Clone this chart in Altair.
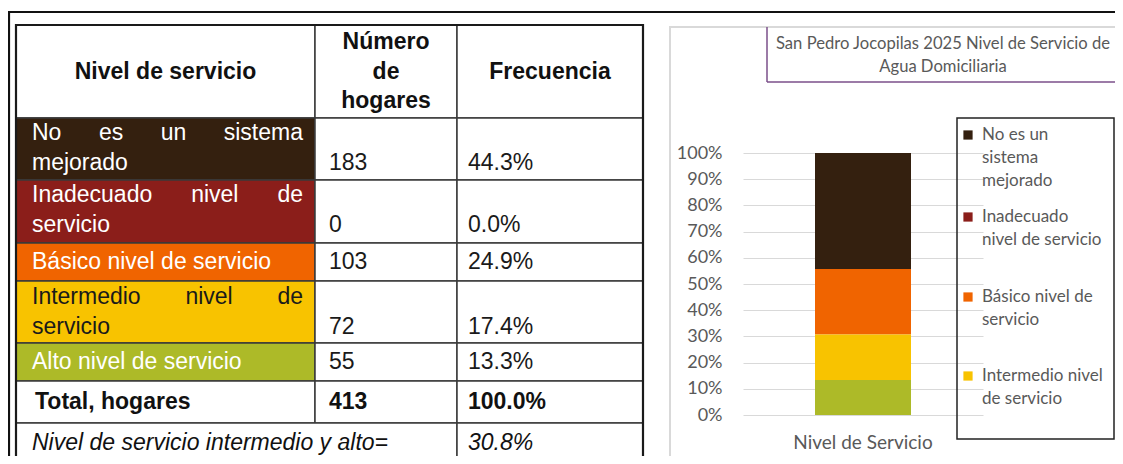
import altair as alt
import pandas as pd

# ----------------------------- datos -----------------------------
categorias = ["No es un sistema mejorado", "Inadecuado nivel de servicio",
              "Básico nivel de servicio", "Intermedio nivel de servicio",
              "Alto nivel de servicio"]
hogares = [183, 0, 103, 72, 55]
frecuencias = ["44.3%", "0.0%", "24.9%", "17.4%", "13.3%"]
colores = ["#34200F", "#8B1E1A", "#F06400", "#F8C300", "#ADBA28"]
color_texto_celda = ["#FFFFFF", "#FFFFFF", "#FFFFFF", "#1A1A1A", "#FFFFFF"]
orden_apilado = [4, 3, 2, 1, 0]
lineas_celda = [
    [["No", "es", "un", "sistema"], ["mejorado"]],
    [["Inadecuado", "nivel", "de"], ["servicio"]],
    [["Básico nivel de servicio"]],
    [["Intermedio", "nivel", "de"], ["servicio"]],
    [["Alto nivel de servicio"]],
]
encabezado_1 = "Nivel de servicio"
encabezado_2 = ["Número", "de", "hogares"]
encabezado_3 = "Frecuencia"
total_etiqueta = "Total, hogares"
total_hogares = "413"
total_frecuencia = "100.0%"
resumen_etiqueta = "Nivel de servicio intermedio y alto="
resumen_valor = "30.8%"
serie = "Nivel de Servicio"
titulo_lineas = ["San Pedro Jocopilas 2025 Nivel de Servicio de", "Agua Domiciliaria"]
ticks_y = [0.0, 0.1, 0.2, 0.3, 0.4, 0.5, 0.6, 0.7, 0.8, 0.9, 1.0]
leyenda_lineas = [["No es un", "sistema", "mejorado"],
                  ["Inadecuado", "nivel de servicio"],
                  ["Básico nivel de", "servicio"],
                  ["Intermedio nivel", "de servicio"]]

# ----------------------------- layout -----------------------------
W, H = 1107, 448
OFF = 8


def p(v):
    return v - OFF


COLS = [16, 315, 457, 643]
ROWS = [25, 118, 180, 243, 281, 343, 381, 423, 463]
LINE_Y = [163, 225, 262, 327, 362]
TOTAL_Y, RESUMEN_Y = 402, 443
LH = 30
FS = 23
X_TXT0, X_TXT1 = 32, 303
X_VAL, X_FREQ = 329, 468
TFONT = "Liberation Sans"
CFONT = "Lato"
GRAY = "#595959"

ARIAL = {" ": 278, "a": 556, "á": 556, "b": 556, "c": 500, "d": 556, "e": 556,
         "f": 278, "g": 556, "h": 556, "i": 222, "j": 222, "k": 500, "l": 222,
         "m": 833, "n": 556, "o": 556, "p": 556, "q": 556, "r": 333, "s": 500,
         "t": 278, "u": 556, "v": 500, "w": 722, "x": 500, "y": 500, "z": 500,
         "A": 667, "B": 667, "I": 278, "N": 722}


def text_w(s, size):
    return sum(ARIAL.get(c, 556) for c in s) * size / 1000.0


def justify(words, x0, x1, size):
    if len(words) == 1:
        return [(words[0], x0)]
    widths = [text_w(w, size) for w in words]
    gap = (x1 - x0 - sum(widths)) / (len(words) - 1)
    out, x = [], x0
    for w, wd in zip(words, widths):
        out.append((w, x))
        x += wd + gap
    return out


# ---- table cells ----
cells = []
for c in range(3):
    cells.append(dict(x=COLS[c], x2=COLS[c + 1], y=ROWS[0], y2=ROWS[1], fill="#FFFFFF"))
for k in range(5):
    for c in range(3):
        cells.append(dict(x=COLS[c], x2=COLS[c + 1], y=ROWS[k + 1], y2=ROWS[k + 2],
                          fill=colores[k] if c == 0 else "#FFFFFF"))
for c in range(3):
    cells.append(dict(x=COLS[c], x2=COLS[c + 1], y=ROWS[6], y2=ROWS[7], fill="#FFFFFF"))
cells.append(dict(x=COLS[0], x2=COLS[2], y=ROWS[7], y2=ROWS[8], fill="#FFFFFF"))
cells.append(dict(x=COLS[2], x2=COLS[3], y=ROWS[7], y2=ROWS[8], fill="#FFFFFF"))
cells_df = pd.DataFrame(cells)
for col in ["x", "x2", "y", "y2"]:
    cells_df[col] = cells_df[col].map(p)

# ---- table text ----
normal = []
for i, lines in enumerate(lineas_celda):
    n = len(lines)
    for j, words in enumerate(lines):
        y = LINE_Y[i] - (n - 1 - j) * LH
        placed = justify(words, X_TXT0, X_TXT1, FS) if j < n - 1 else [(" ".join(words), X_TXT0)]
        for w, x in placed:
            normal.append(dict(x=p(x), y=p(y), t=w, c=color_texto_celda[i]))
    normal.append(dict(x=p(X_VAL), y=p(LINE_Y[i]), t=str(hogares[i]), c="#1A1A1A"))
    normal.append(dict(x=p(X_FREQ), y=p(LINE_Y[i]), t=frecuencias[i], c="#1A1A1A"))
normal_df = pd.DataFrame(normal)

head = [dict(x=p((COLS[0] + COLS[1]) / 2), y=p(72), t=encabezado_1),
        dict(x=p((COLS[2] + COLS[3]) / 2), y=p(72), t=encabezado_3)]
for j, t in enumerate(encabezado_2):
    head.append(dict(x=p((COLS[1] + COLS[2]) / 2), y=p(42 + 29.5 * j), t=t))
head_df = pd.DataFrame(head)

bold_df = pd.DataFrame([dict(x=p(35), y=p(TOTAL_Y), t=total_etiqueta),
                        dict(x=p(X_VAL), y=p(TOTAL_Y), t=total_hogares),
                        dict(x=p(X_FREQ), y=p(TOTAL_Y), t=total_frecuencia)])
ital_df = pd.DataFrame([dict(x=p(X_TXT0), y=p(RESUMEN_Y), t=resumen_etiqueta),
                        dict(x=p(X_FREQ), y=p(RESUMEN_Y), t=resumen_valor)])

# ---- helpers ----
def XP(f="x"):
    return alt.X(f"{f}:Q", scale=None, axis=None)


def YP(f="y"):
    return alt.Y(f"{f}:Q", scale=None, axis=None)


def rules(df, color, width):
    return alt.Chart(df).mark_rule(color=color, strokeWidth=width).encode(
        x=XP(), x2="x2:Q", y=YP(), y2="y2:Q")


def boxes(df, color, width):
    return alt.Chart(df).mark_rect(fill="transparent", stroke=color, strokeWidth=width).encode(
        x=XP(), x2="x2:Q", y=YP(), y2="y2:Q")


def seg(x, x2, y, y2):
    return dict(x=p(x), x2=p(x2), y=p(y), y2=p(y2))


frame = rules(pd.DataFrame([seg(8, 1130, 12, 12), seg(9, 9, 12, 470)]), "#111111", 2.2)

cell_layer = alt.Chart(cells_df).mark_rect(stroke="#3A3A3A", strokeWidth=1.5).encode(
    x=XP(), x2="x2:Q", y=YP(), y2="y2:Q", fill=alt.Fill("fill:N", scale=None))
table_border = boxes(pd.DataFrame([seg(COLS[0], COLS[3], ROWS[0], ROWS[-1])]), "#1A1A1A", 2.2)

txt_normal = alt.Chart(normal_df).mark_text(align="left", baseline="middle", font=TFONT,
                                            fontSize=FS).encode(
    x=XP(), y=YP(), text="t:N", fill=alt.Fill("c:N", scale=None))
txt_head = alt.Chart(head_df).mark_text(align="center", baseline="middle", font=TFONT,
                                        fontSize=FS, fontWeight="bold", color="#111111").encode(
    x=XP(), y=YP(), text="t:N")
txt_bold = alt.Chart(bold_df).mark_text(align="left", baseline="middle", font=TFONT,
                                        fontSize=FS, fontWeight="bold", color="#111111").encode(
    x=XP(), y=YP(), text="t:N")
txt_ital = alt.Chart(ital_df).mark_text(align="left", baseline="middle", font=TFONT,
                                        fontSize=FS, fontStyle="italic", color="#111111").encode(
    x=XP(), y=YP(), text="t:N")

# ---- chart panel ----
panel = boxes(pd.DataFrame([seg(670, 1140, 27, 462)]), "#D9D9D9", 2)
title_box = rules(pd.DataFrame([seg(767, 767, 27, 82), seg(767, 1140, 82, 82)]), "#7B4F8A", 1.5)
title_txt = alt.Chart(pd.DataFrame([dict(x=p(943), y=p(44 + 22.5 * j), t=t)
                                    for j, t in enumerate(titulo_lineas)])).mark_text(
    align="center", baseline="middle", font=CFONT, fontSize=16.6, color=GRAY).encode(
    x=XP(), y=YP(), text="t:N")

color_scale = alt.Scale(domain=categorias, range=colores)

bar_df = pd.DataFrame({"serie": serie, "cat": categorias, "hogares": hogares,
                       "orden": orden_apilado})
PLOT_X0, PLOT_X1 = 743, 983
PLOT_Y0, PLOT_Y1 = 415, 153
bars = alt.Chart(bar_df).mark_bar().encode(
    x=alt.X("serie:N", title=None,
            scale=alt.Scale(range=[p(PLOT_X0), p(PLOT_X1)], paddingInner=0, paddingOuter=0.75),
            axis=alt.Axis(orient="bottom", offset=-(H - p(PLOT_Y0)), domain=False, ticks=False,
                          labelPadding=18, labelAngle=0, labelFont=CFONT, labelFontSize=19,
                          labelColor=GRAY, grid=False)),
    y=alt.Y("hogares:Q", stack="normalize", title=None,
            scale=alt.Scale(domain=[0, 1], range=[p(PLOT_Y0), p(PLOT_Y1)]),
            axis=alt.Axis(orient="left", offset=-p(PLOT_X0), values=ticks_y, format=".0%",
                          domain=False, ticks=False, grid=True, gridColor="#D9D9D9",
                          gridWidth=1.2, labelPadding=21, labelFont=CFONT, labelFontSize=18,
                          labelColor=GRAY)),
    color=alt.Color("cat:N", scale=color_scale, legend=None),
    order=alt.Order("orden:Q"),
)

# ---- legend ----
LEG_Y = [135, 217, 297, 376]
legend_box = boxes(pd.DataFrame([seg(957, 1114, 118, 439)]), "#222222", 1.5)
leg_sq = alt.Chart(pd.DataFrame({"cat": categorias[:4], "x": [p(968)] * 4,
                                 "y": [p(v) for v in LEG_Y]})).mark_square(
    size=85, opacity=1).encode(
    x=XP(), y=YP(), color=alt.Color("cat:N", scale=color_scale, legend=None))
leg_rows = []
for k, lines in enumerate(leyenda_lineas):
    for j, t in enumerate(lines):
        leg_rows.append(dict(x=p(982), y=p(LEG_Y[k] + 23 * j), t=t))
leg_txt = alt.Chart(pd.DataFrame(leg_rows)).mark_text(
    align="left", baseline="middle", font=CFONT, fontSize=17, color=GRAY).encode(
    x=XP(), y=YP(), text="t:N")

chart = alt.layer(
    frame, cell_layer, table_border, txt_normal, txt_head, txt_bold, txt_ital,
    panel, title_box, title_txt, bars, legend_box, leg_sq, leg_txt,
).resolve_scale(x="independent", y="independent").properties(
    width=W, height=H, autosize=alt.AutoSizeParams(type="none"), padding=0,
).configure_view(stroke=None)

chart.save("out.html", embed_options={"renderer": "svg", "actions": False})
